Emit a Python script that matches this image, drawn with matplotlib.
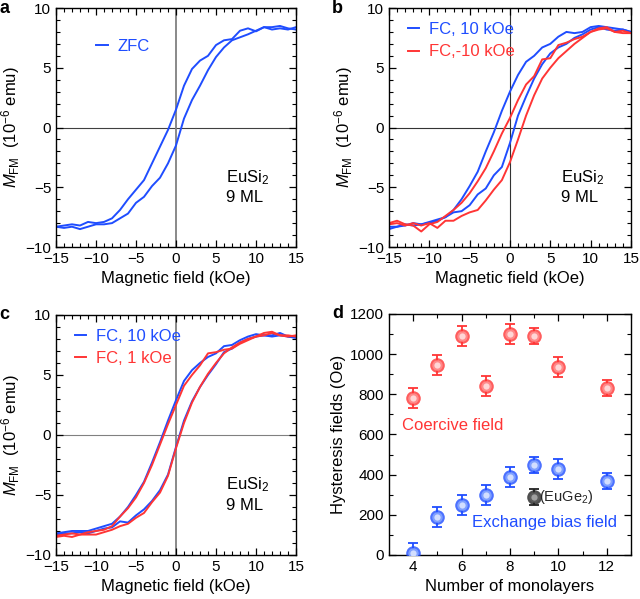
import matplotlib
matplotlib.use("Agg")
import matplotlib.pyplot as plt
from matplotlib.ticker import MultipleLocator
import numpy as np

plt.rcParams['font.family'] = ['Liberation Sans', 'DejaVu Sans']
plt.rcParams['mathtext.fontset'] = 'custom'
plt.rcParams['mathtext.rm'] = 'Liberation Sans'
plt.rcParams['mathtext.it'] = 'Liberation Sans:italic'
plt.rcParams['font.size'] = 10

BLUE = '#1f4dff'
RED = '#ff3535'

# field axis (kOe), descending branch goes +15 -> -15, ascending -15 -> +15
field_up = np.arange(-15, 16, 1)
field_down = field_up[::-1]

# panel a: ZFC
a_down = [8.2, 8.3, 8.5, 8.4, 8.4, 8.05, 8.3, 8.1, 7.4, 7.3, 6.9, 6.0, 5.6, 4.9, 3.5, 1.5,
          -0.2, -1.6, -3.0, -4.4, -5.2, -6.0, -6.9, -7.6, -7.9, -8.0, -7.9, -8.2, -8.1, -8.2, -8.3]
a_up = [-8.3, -8.4, -8.3, -8.5, -8.3, -8.1, -8.1, -8.0, -7.6, -7.2, -6.3, -5.8, -4.9, -4.2, -3.0, -1.5,
        0.75, 2.3, 3.5, 4.8, 5.9, 6.7, 7.3, 7.55, 7.8, 8.1, 8.4, 8.2, 8.3, 8.2, 8.4]

# panel b: FC +10 kOe (blue) and FC -10 kOe (red)
b_fc10_down = [8.0, 8.2, 8.3, 8.4, 8.5, 8.4, 8.0, 7.9, 8.0, 7.6, 7.0, 6.7, 6.0, 5.5, 4.4, 3.0,
               1.4, -0.4, -2.0, -3.7, -4.9, -6.0, -6.9, -7.5, -7.8, -8.0, -8.1, -8.2, -8.1, -8.3, -8.3]
b_fc10_up = [-8.5, -8.3, -8.2, -8.0, -8.1, -7.9, -7.7, -7.5, -7.1, -7.0, -6.5, -5.6, -5.1, -4.0, -3.3, -1.3,
             1.0, 2.6, 4.1, 5.3, 6.2, 6.7, 7.0, 7.5, 7.8, 8.2, 8.4, 8.2, 8.1, 8.2, 8.0]
b_fcm10_down = [7.9, 7.9, 8.0, 8.3, 8.2, 8.0, 7.6, 7.4, 7.1, 6.9, 5.8, 5.7, 4.3, 3.6, 2.3, 0.8,
                -0.5, -2.0, -3.4, -4.5, -5.5, -6.3, -6.9, -7.4, -7.9, -8.1, -8.7, -8.2, -8.1, -7.8, -8.0]
b_fcm10_up = [-8.1, -8.0, -8.2, -8.0, -8.2, -8.0, -8.4, -7.8, -7.8, -7.4, -7.1, -6.9, -6.1, -5.2, -4.4, -2.9,
              -1.0, 1.0, 2.7, 4.1, 5.0, 5.8, 6.4, 7.0, 7.5, 8.0, 8.3, 8.4, 8.0, 8.1, 7.9]

# panel c: FC +10 kOe (blue) and FC +1 kOe (red)
c_fc10_down = [8.1, 8.2, 8.3, 8.2, 8.3, 8.4, 8.2, 7.9, 7.5, 7.4, 6.8, 6.5, 6.0, 5.4, 4.5, 2.9,
               1.2, -0.6, -2.3, -3.9, -5.0, -6.0, -6.8, -7.4, -7.6, -7.8, -8.0, -8.0, -8.0, -8.1, -8.2]
c_fc10_up = [-8.3, -8.2, -8.2, -8.1, -8.2, -8.0, -7.8, -7.7, -7.2, -7.3, -6.7, -6.2, -5.5, -4.6, -3.3, -1.0,
             1.2, 2.8, 4.0, 5.0, 5.9, 6.9, 7.2, 7.7, 8.0, 8.2, 8.3, 8.3, 8.5, 8.2, 8.1]
c_fc1_down = [8.3, 8.2, 8.3, 8.6, 8.5, 8.2, 7.9, 7.6, 7.2, 7.1, 6.9, 6.8, 5.8, 5.0, 4.1, 2.5,
              0.9, -0.8, -2.5, -4.0, -5.2, -6.1, -6.8, -7.6, -7.9, -8.0, -8.1, -8.3, -8.2, -8.3, -8.4]
c_fc1_up = [-8.5, -8.4, -8.5, -8.3, -8.3, -8.3, -8.1, -7.9, -7.6, -7.4, -6.9, -6.5, -5.6, -4.8, -3.4, -1.1,
            1.0, 2.7, 4.0, 5.1, 6.0, 6.8, 7.3, 7.7, 8.0, 8.2, 8.3, 8.5, 8.3, 8.3, 8.2]

# panel d: hysteresis fields vs thickness
layers = [4, 5, 6, 7, 8, 9, 10, 12]
coercive = [780, 945, 1090, 840, 1100, 1090, 935, 830]
coercive_err = [50, 50, 50, 50, 50, 40, 50, 40]
exbias = [10, 190, 248, 300, 388, 450, 430, 370]
exbias_err = [50, 50, 50, 50, 50, 40, 50, 40]
euge2_layers = [9]
euge2_bias = [290]
euge2_err = [40]


def style_axes(ax):
    ax.tick_params(which='both', direction='in', top=True, right=True, labelsize=11)
    ax.tick_params(which='major', length=5, width=0.9)
    ax.tick_params(which='minor', length=3, width=0.8)
    for s in ax.spines.values():
        s.set_linewidth(1.0)


def loop_axes(ax, letter, zero_color='0.2', zero_vcolor='0.2', zero_vw=0.8):
    ax.axhline(0, color=zero_color, lw=0.8, zorder=1)
    ax.axvline(0, color=zero_vcolor, lw=zero_vw, zorder=1)
    ax.set_xlim(-15, 15)
    ax.set_ylim(-10, 10)
    ax.xaxis.set_major_locator(MultipleLocator(5))
    ax.xaxis.set_minor_locator(MultipleLocator(1))
    ax.yaxis.set_major_locator(MultipleLocator(5))
    ax.yaxis.set_minor_locator(MultipleLocator(1))
    ax.set_xlabel('Magnetic field (kOe)', fontsize=12, labelpad=4)
    ax.set_ylabel(r'$M_{\mathrm{FM}}$  (10$^{-6}$ emu)', fontsize=12, labelpad=2)
    ax.text(0.71, 0.33, 'EuSi$_2$\n9 ML', transform=ax.transAxes, fontsize=12,
            va='top', ha='left', linespacing=1.3)
    style_axes(ax)
    ax.text(-0.235, 1.0, letter, transform=ax.transAxes, fontsize=13,
            fontweight='bold', va='center', ha='left')


def add_legend(ax):
    leg = ax.legend(loc='upper left', bbox_to_anchor=(0.05, 0.97), frameon=False,
                    handlelength=0.7, handletextpad=0.6, labelspacing=0.45,
                    fontsize=12, labelcolor='linecolor', borderaxespad=0)
    return leg


fig = plt.figure(figsize=(6.4, 5.99), dpi=100)
ax_a = fig.add_axes([0.0875, 0.5876, 0.375, 0.399])
ax_b = fig.add_axes([0.6078, 0.5876, 0.378, 0.399])
ax_c = fig.add_axes([0.0875, 0.0735, 0.375, 0.4007])
ax_d = fig.add_axes([0.6078, 0.0735, 0.378, 0.4024])

# a
ax_a.plot(field_down, a_down, color=BLUE, lw=1.4, label='ZFC')
ax_a.plot(field_up, a_up, color=BLUE, lw=1.4)
loop_axes(ax_a, 'a', zero_color='0.25', zero_vcolor='0.5', zero_vw=1.3)
ax_a.legend(loc='upper left', bbox_to_anchor=(0.14, 0.9), frameon=False,
            handlelength=0.7, handletextpad=0.6, fontsize=12,
            labelcolor='linecolor', borderaxespad=0)

# b
ax_b.plot(field_down, b_fc10_down, color=BLUE, lw=1.4, label='FC, 10 kOe')
ax_b.plot(field_up, b_fc10_up, color=BLUE, lw=1.4)
ax_b.plot(field_down, b_fcm10_down, color=RED, lw=1.4, label='FC,-10 kOe')
ax_b.plot(field_up, b_fcm10_up, color=RED, lw=1.4)
loop_axes(ax_b, 'b')
add_legend(ax_b)

# c
ax_c.plot(field_down, c_fc10_down, color=BLUE, lw=1.4, label='FC, 10 kOe')
ax_c.plot(field_up, c_fc10_up, color=BLUE, lw=1.4)
ax_c.plot(field_down, c_fc1_down, color=RED, lw=1.4, label='FC, 1 kOe')
ax_c.plot(field_up, c_fc1_up, color=RED, lw=1.4)
loop_axes(ax_c, 'c', zero_color='0.5', zero_vcolor='0.5', zero_vw=1.3)
add_legend(ax_c)

# d
def dots(ax, x, y, err, color, light, lighter):
    ax.errorbar(x, y, yerr=err, fmt='none', ecolor=color, elinewidth=1.3,
                capsize=3.5, capthick=1.3, zorder=2)
    ax.plot(x, y, 'o', ms=10.5, mfc=color, mec='none', alpha=0.8, zorder=3)
    ax.plot(x, y, 'o', ms=7.5, mfc=light, mec='none', zorder=4)
    ax.plot(x, y, 'o', ms=4.5, mfc=lighter, mec='none', zorder=5)


dots(ax_d, layers, coercive, coercive_err, RED, '#ff8a8a', '#ffd6d6')
dots(ax_d, layers, exbias, exbias_err, BLUE, '#7fa0ff', '#d2deff')
dots(ax_d, euge2_layers, euge2_bias, euge2_err, '#222222', '#5a5a5a', '#a0a0a0')
ax_d.set_xlim(3, 13)
ax_d.set_ylim(0, 1200)
ax_d.xaxis.set_major_locator(MultipleLocator(2))
ax_d.xaxis.set_minor_locator(MultipleLocator(1))
ax_d.yaxis.set_major_locator(MultipleLocator(200))
ax_d.yaxis.set_minor_locator(MultipleLocator(100))
ax_d.set_xlabel('Number of monolayers', fontsize=12, labelpad=4)
ax_d.set_ylabel('Hysteresis fields (Oe)', fontsize=12, labelpad=3)
style_axes(ax_d)
ax_d.text(3.55, 645, 'Coercive field', color=RED, fontsize=12, va='center', ha='left')
ax_d.text(6.45, 160, 'Exchange bias field', color=BLUE, fontsize=12, va='center', ha='left')
ax_d.text(9.22, 290, '(EuGe$_2$)', color='0.15', fontsize=10.5, va='center', ha='left')
ax_d.text(-0.235, 1.0, 'd', transform=ax_d.transAxes, fontsize=13,
          fontweight='bold', va='center', ha='left')

fig.savefig('out.png', dpi=100)
